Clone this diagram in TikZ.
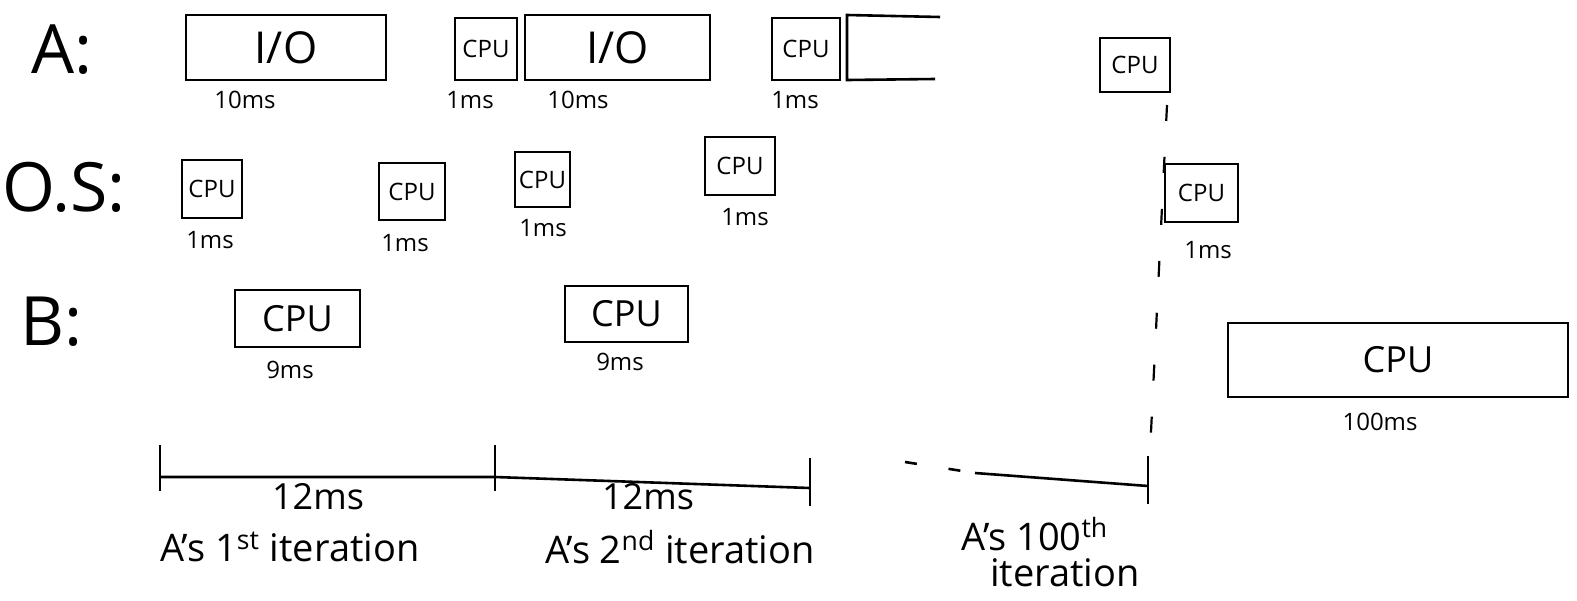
\documentclass[tikz,border=0pt]{standalone}
\usepackage{fontspec}
\setmainfont{Open Sans}
\begin{document}
\begin{tikzpicture}[x=0.5pt,y=-0.5pt,
  line width=1.3pt,
  box/.style={draw, line width=1.3pt, inner sep=0pt, font=\fontsize{12}{14}\selectfont},
  bigbox/.style={box, font=\fontsize{18}{20}\selectfont},
  iobox/.style={box, font=\fontsize{22}{24}\selectfont},
  lab/.style={font=\fontsize{12}{14}\selectfont, inner sep=0pt},
  rowlab/.style={font=\fontsize{34}{38}\selectfont, inner sep=0pt},
  tl/.style={font=\fontsize{18}{20}\selectfont, inner sep=0pt},
  it/.style={font=\fontsize{19}{22}\selectfont, inner sep=0pt, align=center},
  dot/.style={dash pattern=on 8pt off 18pt, line width=1.1pt}]
\useasboundingbox (0,0) rectangle (1577,600);

% row labels
\node[rowlab] (rA) at (62,50) {A:};
\node[rowlab] (rOS) at (64,187) {O.S:};
\node[rowlab] (rB) at (52,322) {B:};

% row A
\node[iobox, minimum width=100pt, minimum height=32.5pt] (a1) at (286,47.5) {I/O};
\node[lab] (a1l) at (245,100) {10ms};
\node[box, minimum width=31pt, minimum height=31pt] (a2) at (486,49) {CPU};
\node[lab] (a2l) at (470,100) {1ms};
\node[iobox, minimum width=92.5pt, minimum height=32.5pt] (a3) at (617.5,47.5) {I/O};
\node[lab] (a3l) at (578,100) {10ms};
\node[box, minimum width=34pt, minimum height=31pt] (a4) at (806,49) {CPU};
\node[lab] (a4l) at (795,100) {1ms};
\coordinate (o1) at (940,17);
\coordinate (o2) at (847,15);
\coordinate (o3) at (847,80);
\coordinate (o4) at (935,79);
\draw (o1) -- (o2) -- (o3) -- (o4);
\node[box, minimum width=35pt, minimum height=27pt] (a5) at (1135,65) {CPU};

% row O.S
\node[box, minimum width=30pt, minimum height=29pt] (s1) at (212,189) {CPU};
\node[lab] (s1l) at (210,240) {1ms};
\node[box, minimum width=33pt, minimum height=28.5pt] (s2) at (412,191.5) {CPU};
\node[lab] (s2l) at (405,243) {1ms};
\node[box, minimum width=27.5pt, minimum height=27.5pt] (s3) at (542.5,179.5) {CPU};
\node[lab] (s3l) at (543,228) {1ms};
\node[box, minimum width=35pt, minimum height=29pt] (s4) at (740,166) {CPU};
\node[lab] (s4l) at (745,217) {1ms};
\node[box, minimum width=36.5pt, minimum height=29pt] (s5) at (1201.5,193) {CPU};
\node[lab] (s5l) at (1208,250) {1ms};

% row B
\node[bigbox, minimum width=62.5pt, minimum height=28.5pt] (b1) at (297.5,318.5) {CPU};
\node[lab] (b1l) at (290,370) {9ms};
\node[bigbox, minimum width=61.5pt, minimum height=28pt] (b2) at (626.5,314) {CPU};
\node[lab] (b2l) at (620,362) {9ms};
\node[bigbox, minimum width=170pt, minimum height=37pt] (b3) at (1398,360) {CPU};
\node[lab] (b3l) at (1380,422) {100ms};

% timeline
\coordinate (t0) at (160,477);
\coordinate (t1) at (495,477);
\coordinate (t2) at (810,488);
\coordinate (t3) at (1148,486);
\coordinate (d0) at (905,462);
\coordinate (d1) at (975,473);
\draw (t0) -- (t1) -- (t2);
\draw (t0) ++(0,-32) -- ++(0,46);
\draw (t1) ++(0,-32) -- ++(0,46);
\draw (t2) ++(0,-30) -- ++(0,48);
\draw (t3) ++(0,-30) -- ++(0,48);
\draw[dash pattern=on 6pt off 16pt] (d0) -- (d1);
\draw (d1) -- (t3);

% dotted vertical
\coordinate (v0) at (1167,105);
\coordinate (v1) at (1150,452);
\draw[dot] (v0) -- (v1);

\node[tl] (l1) at (318,497) {12ms};
\node[tl] (l2) at (648,497) {12ms};
\node[it] (i1) at (290,547) {A's 1\textsuperscript{st} iteration};
\node[it] (i2) at (680,547) {A's 2\textsuperscript{nd} iteration};
\node[it] (i3) at (1035,552) {A's 100\textsuperscript{th}\\[-4pt]\hspace*{30pt}iteration};
\end{tikzpicture}
\end{document}
